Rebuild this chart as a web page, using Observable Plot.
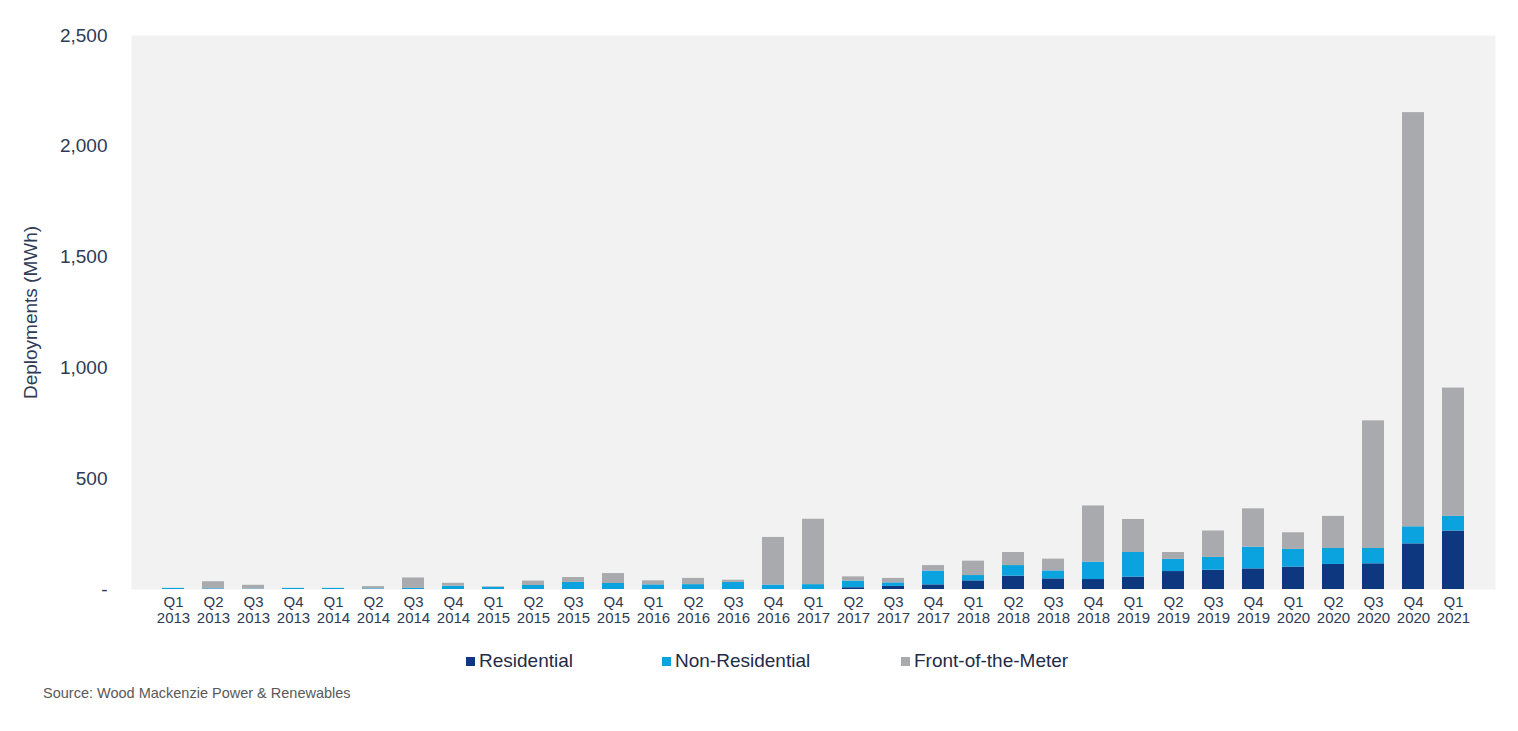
<!DOCTYPE html>
<html>
<head>
<meta charset="utf-8">
<script src="https://cdn.jsdelivr.net/npm/d3@7"></script>
<script src="https://cdn.jsdelivr.net/npm/@observablehq/plot@0.6"></script>
<style>
  body { margin: 0; background: #fff; font-family: "Liberation Sans", Arial, sans-serif; }
  #wrap { position: relative; width: 1518px; height: 731px; overflow: hidden; }
  .lg { position: absolute; top: 650px; display: flex; align-items: center; font-size: 19px; color: #1f2b48; white-space: nowrap; }
  .sw { width: 9px; height: 9px; margin-right: 4px; display: inline-block; }
  #source { position: absolute; left: 43px; top: 685px; font-size: 14.5px; color: #595959; white-space: nowrap; }
</style>
</head>
<body>
<div id="wrap">
  <div id="chart"></div>
  <div id="legend"></div>
  <div id="source">Source: Wood Mackenzie Power &amp; Renewables</div>
</div>
<script>
const quarters = [
  "Q1 2013","Q2 2013","Q3 2013","Q4 2013",
  "Q1 2014","Q2 2014","Q3 2014","Q4 2014",
  "Q1 2015","Q2 2015","Q3 2015","Q4 2015",
  "Q1 2016","Q2 2016","Q3 2016","Q4 2016",
  "Q1 2017","Q2 2017","Q3 2017","Q4 2017",
  "Q1 2018","Q2 2018","Q3 2018","Q4 2018",
  "Q1 2019","Q2 2019","Q3 2019","Q4 2019",
  "Q1 2020","Q2 2020","Q3 2020","Q4 2020",
  "Q1 2021"
];
const residential = [0,0,0,0, 0,0,0,0, 0,0,0,0, 0,0,0,0, 0,8,14,21, 39,60,48,45, 56,81,87,93, 101,113,116,206, 264];
const nonResidential = [5,3,2,5, 5,3,5,15, 10,18,32,27, 21,22,32,20, 22,30,16,62, 24,48,36,78, 111,55,58,98, 80,72,69,77, 66];
const frontOfTheMeter = [0,32,17,0, 0,10,47,13, 2,20,22,45, 18,28,10,215, 295,19,20,25, 65,59,53,254, 149,31,119,173, 75,145,576,1869, 579];
const seriesNames = ["Residential","Non-Residential","Front-of-the-Meter"];
const seriesColors = ["#0d3880","#0aa2df","#a9aaad"];
const yTicks = [0,500,1000,1500,2000,2500];
const yLabel = "Deployments (MWh)";

const seriesValues = [residential, nonResidential, frontOfTheMeter];
const data = [];
quarters.forEach((q, i) => {
  seriesNames.forEach((s, k) => data.push({quarter: q, series: s, value: seriesValues[k][i]}));
});

const textColor = "#2e3a56";
const chart = Plot.plot({
  width: 1518,
  height: 641,
  marginLeft: 131,
  marginRight: 23,
  marginTop: 35,
  marginBottom: 52,
  style: {fontFamily: "'Liberation Sans', Arial, sans-serif", background: "transparent", color: textColor},
  x: {domain: quarters, padding: 0.44, label: null},
  y: {domain: [0, 2500], label: null},
  color: {domain: seriesNames, range: seriesColors},
  marks: [
    Plot.frame({fill: "#f2f2f2", stroke: "none"}),
    Plot.barY(data, {x: "quarter", y: "value", fill: "series", order: seriesNames}),
    Plot.axisX({tickSize: 0, tickPadding: 5, fontSize: 15, lineHeight: 1.13,
      tickFormat: d => d.replace(" ", "\n")}),
    Plot.axisY({ticks: yTicks, tickSize: 0, tickPadding: 24, fontSize: 19,
      tickFormat: d => d === 0 ? "-" : d3.format(",")(d)}),
    Plot.text([yLabel], {frameAnchor: "left", dx: -101, rotate: -90, textAnchor: "middle",
      fontSize: 19, text: d => d})
  ]
});
document.getElementById("chart").appendChild(chart);

const legendLefts = [466, 662, 901];
const legend = document.getElementById("legend");
seriesNames.forEach((s, k) => {
  const item = document.createElement("div");
  item.className = "lg";
  item.style.left = legendLefts[k] + "px";
  const sw = document.createElement("span");
  sw.className = "sw";
  sw.style.background = seriesColors[k];
  item.appendChild(sw);
  item.appendChild(document.createTextNode(s));
  legend.appendChild(item);
});
</script>
</body>
</html>
